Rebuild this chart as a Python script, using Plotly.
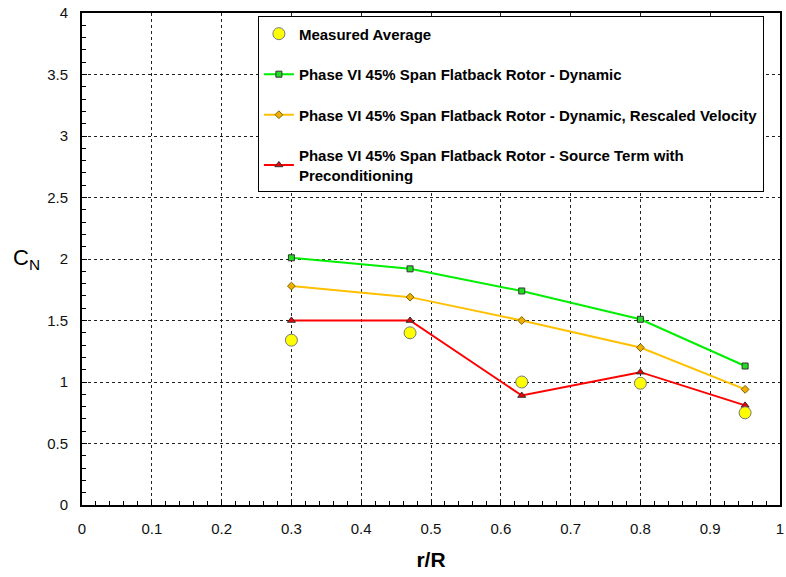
import plotly.graph_objects as go

r_R = [0.3, 0.47, 0.63, 0.8, 0.95]
measured = [1.34, 1.40, 1.00, 0.99, 0.75]
dynamic = [2.01, 1.92, 1.74, 1.51, 1.13]
rescaled = [1.78, 1.69, 1.50, 1.28, 0.94]
source_term = [1.50, 1.50, 0.89, 1.08, 0.81]

names = [
    "Measured Average",
    "Phase VI 45% Span Flatback Rotor - Dynamic",
    "Phase VI 45% Span Flatback Rotor - Dynamic, Rescaled Velocity",
    "Phase VI 45% Span Flatback Rotor - Source Term with<br>Preconditioning",
]

fig = go.Figure()
fig.add_trace(go.Scatter(x=r_R, y=dynamic, mode="lines+markers", name=names[1],
                         legendgroup="b", legendrank=2,
                         line=dict(color="#00ee00", width=2),
                         marker=dict(symbol="square", size=6, color="#22dd22",
                                     line=dict(color="#333333", width=1))))
fig.add_trace(go.Scatter(x=r_R, y=rescaled, mode="lines+markers", name=names[2],
                         legendgroup="c", legendrank=3,
                         line=dict(color="#ffc000", width=2),
                         marker=dict(symbol="diamond", size=6, color="#f0b000",
                                     line=dict(color="#806000", width=1))))
fig.add_trace(go.Scatter(x=r_R, y=source_term, mode="lines+markers", name=names[3],
                         legendgroup="d", legendrank=4,
                         line=dict(color="#ff0000", width=2),
                         marker=dict(symbol="triangle-up", size=7, color="#ee0000",
                                     line=dict(color="#333333", width=1))))
fig.add_trace(go.Scatter(x=r_R, y=measured, mode="markers", name=names[0],
                         legendgroup="a", legendrank=1,
                         marker=dict(symbol="circle", size=12, color="#ffff00",
                                     line=dict(color="#777777", width=1))))

axis_common = dict(
    showline=True, linecolor="black", linewidth=2, mirror=True,
    ticks="inside", ticklen=5, tickcolor="black", tickwidth=1,
    showgrid=True, gridcolor="#222222", griddash="3px,3px", gridwidth=1,
    zeroline=False, automargin=False,
    tickfont=dict(family="Liberation Sans", size=15, color="#111111"),
)

fig.update_xaxes(range=[0, 1], dtick=0.1, tick0=0, ticklabelstandoff=9,
                 minor=dict(dtick=0.02, ticks="inside", ticklen=4, tickcolor="black",
                            tickwidth=1, showgrid=False),
                 title=dict(text="<b>r/R</b>", font=dict(family="Liberation Sans", size=21, color="black"),
                            standoff=16),
                 **axis_common)
fig.update_yaxes(range=[0, 4], dtick=0.5, tick0=0, ticklabelstandoff=9,
                 minor=dict(dtick=0.1, ticks="inside", ticklen=4, tickcolor="black",
                            tickwidth=1, showgrid=False),
                 **axis_common)

fig.add_annotation(text="C<sub>N</sub>", xref="paper", yref="paper", x=-0.057, y=0.5,
                   xanchor="right", yanchor="middle", showarrow=False,
                   font=dict(family="Liberation Sans", size=22, color="black"))

fig.update_layout(
    width=786, height=577,
    margin=dict(l=82, r=6, t=13, b=72),
    plot_bgcolor="white", paper_bgcolor="white",
    showlegend=True,
    legend=dict(x=0.252, y=0.993, xanchor="left", yanchor="top",
                bgcolor="white", bordercolor="black", borderwidth=1,
                font=dict(family="Liberation Sans", size=15, color="black", weight="bold"),
                tracegroupgap=18, itemwidth=30,
                traceorder="grouped"),
)

fig.write_html("out.html")
